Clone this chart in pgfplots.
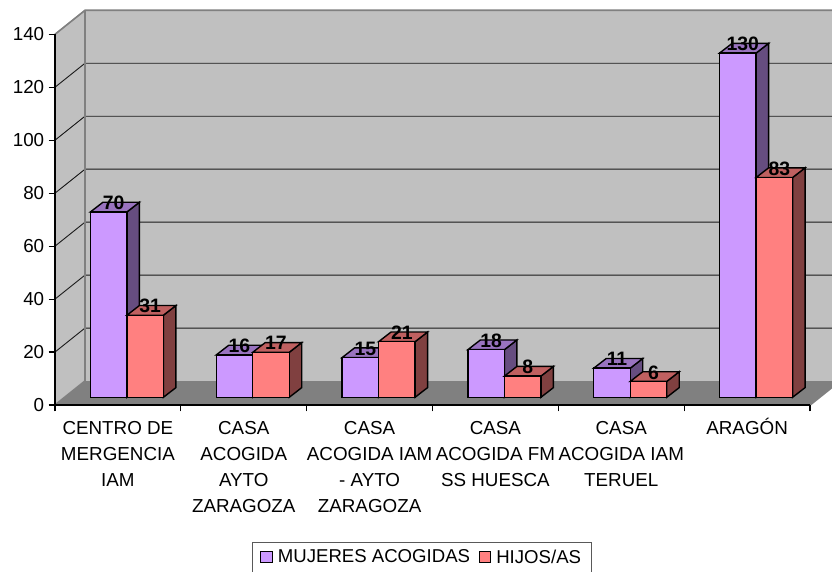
\documentclass[border=0pt]{standalone}
\usepackage{fontspec}
\setmainfont{Liberation Sans}
\usepackage{pgfplots}
\usepackage{pgfplotstable}
\pgfplotsset{compat=1.18}

\definecolor{wall}{HTML}{C0C0C0}
\definecolor{floorc}{HTML}{808080}
\definecolor{purp}{HTML}{CC99FF}
\definecolor{purptop}{HTML}{9973BF}
\definecolor{purpside}{HTML}{664D80}
\definecolor{redb}{HTML}{FF8080}
\definecolor{redtop}{HTML}{BF6060}
\definecolor{redside}{HTML}{804040}

\pgfplotstableread{
x   mujeres hijos
0.5 70      31
1.5 16      17
2.5 15      21
3.5 18      8
4.5 11      6
5.5 130     83
}\chartdata

% side and top of one bar; depth is 12.5px by 9.7px in axis units
% #1 row, #2 column, #3 left edge, #4 right edge, #5 top colour, #6 side colour
\newcommand{\depthfaces}[6]{%
  \pgfplotstablegetelem{#1}{#2}\of\chartdata
  \let\barval\pgfplotsretval
  \pgfmathsetmacro\xa{#1+0.5+#3}%
  \pgfmathsetmacro\xb{#1+0.5+#4}%
  \pgfmathsetmacro\xab{\xa+0.0993}%
  \pgfmathsetmacro\xbb{\xb+0.0993}%
  \pgfmathsetmacro\vb{\barval+3.66}%
  \edef\tmp{\noexpand\addplot[barline,fill=#6] coordinates {(\xb,0)(\xbb,3.66)(\xbb,\vb)(\xb,\barval)} --cycle;
    \noexpand\addplot[barline,fill=#5] coordinates {(\xa,\barval)(\xab,\vb)(\xbb,\vb)(\xb,\barval)} --cycle;}%
  \tmp
}

\pgfplotsset{
  barline/.style={draw=black,line width=1.4pt,line join=miter,xshift=9pt,yshift=7.7pt,forget plot},
  gridl/.style={draw=black!90,line width=0.9pt,forget plot},
  edgel/.style={draw=floorc,line width=1.7pt,forget plot},
}

\begin{document}
\begin{tikzpicture}
\useasboundingbox (0,0) rectangle (832pt,571pt);
\begin{axis}[
  at={(55pt,166pt)},
  anchor=south west,
  scale only axis,
  width=755pt,
  height=370.7pt,
  xmin=0, xmax=6,
  ymin=0, ymax=140,
  clip=false,
  axis on top,
  axis y line=left,
  axis x line=bottom,
  axis line style={-,black,line width=1.1pt},
  tick style={black,line width=1.1pt},
  tick align=outside,
  major tick length=6.3pt,
  ytick={0,20,...,140},
  xtick={0,1,...,6},
  xticklabels={},
  extra x ticks={0.5,1.5,2.5,3.5,4.5,5.5},
  extra x tick labels={
    {\vphantom{Ó}CENTRO DE\\MERGENCIA\\IAM},
    {\vphantom{Ó}CASA\\ACOGIDA\\AYTO\\ZARAGOZA},
    {\vphantom{Ó}CASA\\ACOGIDA IAM\\- AYTO\\ZARAGOZA},
    {\vphantom{Ó}CASA\\ACOGIDA FM\\SS HUESCA},
    {\vphantom{Ó}CASA\\ACOGIDA IAM\\TERUEL},
    {ARAGÓN}},
  extra x tick style={tick style={draw=none}},
  xticklabel style={align=center,anchor=north,yshift=-3.7pt},
  yticklabel style={xshift=-1pt},
  tick label style={font=\fontsize{18.8}{25.8}\selectfont},
  /pgf/number format/assume math mode=true,
  legend columns=2,
  legend style={
    at={(axis description cs:0.2605,-0.3688)},
    anchor=north west,
    draw=black!65,
    line width=1pt,
    fill=white,
    font=\fontsize{18.6}{22}\selectfont,
    inner xsep=8pt,
    inner ysep=5.5pt,
    /tikz/every even column/.style={column sep=6.5pt},
    /tikz/every odd column/.style={column sep=3pt},
  },
  legend image code/.code={
    \draw[#1,draw=black,line width=1.2pt] (0pt,-5.6pt) rectangle (11.5pt,5.6pt);
  },
]
% walls and floor, back plane sits 30px by 24px behind the front one
\addplot[fill=wall,draw=none,forget plot] coordinates {(0.2384,9.06)(6.2384,9.06)(6.2384,149.06)(0.2384,149.06)} --cycle;
\addplot[fill=wall,draw=none,forget plot] coordinates {(0,0)(0.2384,9.06)(0.2384,149.06)(0,140)} --cycle;
\addplot[fill=floorc,draw=none,forget plot] coordinates {(0,0)(0.2384,9.06)(6.2384,9.06)(6,0)} --cycle;
% grid
\addplot[gridl] coordinates {(0,20)(0.2384,29.06)(6.2384,29.06)};
\addplot[gridl] coordinates {(0,40)(0.2384,49.06)(6.2384,49.06)};
\addplot[gridl] coordinates {(0,60)(0.2384,69.06)(6.2384,69.06)};
\addplot[gridl] coordinates {(0,80)(0.2384,89.06)(6.2384,89.06)};
\addplot[gridl] coordinates {(0,100)(0.2384,109.06)(6.2384,109.06)};
\addplot[gridl] coordinates {(0,120)(0.2384,129.06)(6.2384,129.06)};
% wall edges
\addplot[edgel] coordinates {(0,140)(0.2384,149.06)(6.2384,149.06)};
\addplot[edgel] coordinates {(0.2384,149.06)(0.2384,9.06)};
\addplot[edgel] coordinates {(0,0)(0.2384,9.06)};
\addplot[edgel] coordinates {(6,0)(6.2384,9.06)};

% first series
\pgfplotsinvokeforeach{0,...,5}{\depthfaces{#1}{mujeres}{-0.29}{0}{purptop}{purpside}}
\addplot[ybar,bar width=36.5pt,bar shift=-18.25pt,fill=purp,barline] table[x=x,y=mujeres] {\chartdata};
% second series
\pgfplotsinvokeforeach{0,...,5}{\depthfaces{#1}{hijos}{0}{0.29}{redtop}{redside}}
\addplot[ybar,bar width=36.5pt,bar shift=18.25pt,fill=redb,barline] table[x=x,y=hijos] {\chartdata};

% value labels
\addplot[only marks,mark=none,forget plot,nodes near coords,
  nodes near coords style={anchor=center,font=\fontsize{19.4}{22}\selectfont\bfseries,xshift=-4.25pt,yshift=16.7pt}]
  table[x=x,y=mujeres] {\chartdata};
\addplot[only marks,mark=none,forget plot,nodes near coords,
  nodes near coords style={anchor=center,font=\fontsize{19.4}{22}\selectfont\bfseries,xshift=32.25pt,yshift=16.7pt}]
  table[x=x,y=hijos] {\chartdata};

\addlegendimage{fill=purp}
\addlegendimage{fill=redb}
\legend{MUJERES ACOGIDAS,HIJOS/AS}
\end{axis}
\end{tikzpicture}
\end{document}
